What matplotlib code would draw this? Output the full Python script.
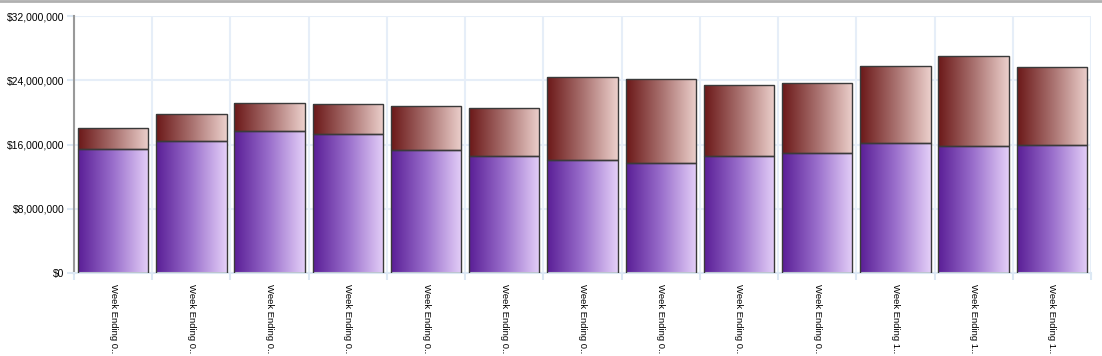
import numpy as np
import matplotlib.pyplot as plt
from matplotlib.colors import LinearSegmentedColormap
from matplotlib.lines import Line2D
from matplotlib.ticker import FuncFormatter, MultipleLocator

# data (in dollars)
labels = ["Week Ending 0.."] * 10 + ["Week Ending 1.."] * 3
base_values = [15.44, 16.48, 17.65, 17.31, 15.32, 14.53, 14.03,
               13.70, 14.61, 14.94, 16.19, 15.82, 15.98]
total_values = [18.06, 19.76, 21.21, 21.01, 20.83, 20.59, 24.45,
                24.16, 23.37, 23.62, 25.78, 27.02, 25.69]
base = np.array(base_values) * 1e6
top = (np.array(total_values) - np.array(base_values)) * 1e6

purple_cmap = LinearSegmentedColormap.from_list("p", ["#5a1e96", "#9a6fcc", "#e4cff8"])
brown_cmap = LinearSegmentedColormap.from_list("b", ["#6b1818", "#a8706e", "#ecd0cc"])

plt.rcParams['font.family'] = ['Liberation Sans', 'DejaVu Sans']

fig = plt.figure(figsize=(11.02, 3.56), dpi=100)
ax = fig.add_axes([74 / 1102, 83 / 356, 1017 / 1102, 257 / 356])

x = np.arange(len(labels))
width = 0.9
grad = np.linspace(0, 1, 256).reshape(1, -1)


def gradient_bars(bars, cmap):
    for b in bars:
        x0, y0 = b.get_x(), b.get_y()
        w, h = b.get_width(), b.get_height()
        im = ax.imshow(grad, cmap=cmap, aspect='auto', extent=(x0, x0 + w, y0, y0 + h),
                       interpolation='bicubic', zorder=2)
        im.set_clip_path(b)


b1 = ax.bar(x, base, width, facecolor='none', edgecolor='#3a3a3a', linewidth=1.0, zorder=3)
b2 = ax.bar(x, top, width, bottom=base, facecolor='none', edgecolor='#3a3a3a', linewidth=1.0, zorder=3)
gradient_bars(b1, purple_cmap)
gradient_bars(b2, brown_cmap)

ax.set_xlim(-0.5, len(labels) - 0.5)
ax.set_ylim(0, 32e6)
ax.yaxis.set_major_locator(MultipleLocator(8e6))
ax.yaxis.set_major_formatter(FuncFormatter(lambda v, p: '${:,.0f}'.format(v)))

ax.set_xticks(np.arange(-0.5, len(labels), 1.0))
ax.set_xticklabels([])
ax.set_xticks(x, minor=True)
ax.set_xticklabels(labels, minor=True, rotation=-90, fontsize=6.8, va='top', ha='center')
ax.tick_params(axis='x', which='minor', length=0, pad=8)
ax.tick_params(axis='x', which='major', length=5, color='#dce8f4', width=1.5)
ax.tick_params(axis='y', length=5, color='#dce8f4', width=1.5, labelsize=7.5, pad=2)

ax.grid(True, which='major', color='#e6eef8', linewidth=1.5, zorder=0)
ax.set_axisbelow(True)
for s in ['top', 'right']:
    ax.spines[s].set_visible(False)
ax.spines['left'].set_color('#999999')
ax.spines['left'].set_linewidth(1.5)
ax.spines['bottom'].set_color('#dce8f4')
ax.spines['bottom'].set_linewidth(1.5)

fig.add_artist(Line2D([0, 1], [0.996, 0.996], color='#b0b0b0', linewidth=2.0))

fig.savefig('out.png', dpi=100)
